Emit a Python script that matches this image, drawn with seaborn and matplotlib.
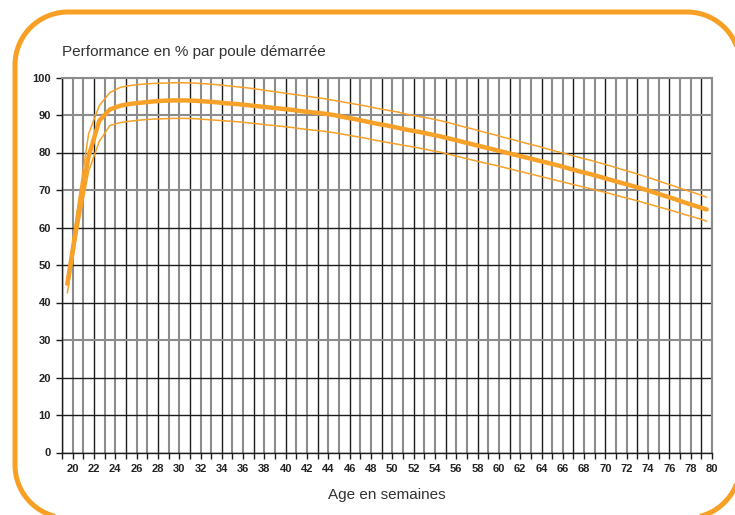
import numpy as np
import pandas as pd
import matplotlib
matplotlib.use("Agg")
import matplotlib.pyplot as plt
from matplotlib.lines import Line2D
from matplotlib.transforms import IdentityTransform
import seaborn as sns

# weeks of age (one value per week, 19 -> 79)
weeks = list(range(19, 80))

# performance in % per started hen: standard curve
standard = [45, 63, 79, 88.5, 91.5, 92.5, 93.0, 93.3, 93.6, 93.8, 93.9, 93.9, 93.8, 93.6,
            93.4, 93.1, 92.9, 92.6, 92.3, 92.0, 91.7, 91.4, 91.0, 90.7, 90.4, 90.0, 89.4,
            88.9, 88.3, 87.7, 87.2, 86.6, 86.0, 85.5, 84.9, 84.3, 83.6, 82.9, 82.2, 81.5,
            80.8, 80.1, 79.4, 78.7, 78.0, 77.3, 76.6, 75.8, 75.0, 74.3, 73.5, 72.7, 71.9,
            71.1, 70.3, 69.4, 68.5, 67.6, 66.6, 65.7, 64.8]

# upper bound
upper = [45, 66, 85, 92.5, 96.0, 97.4, 97.9, 98.2, 98.4, 98.5, 98.6, 98.6, 98.5, 98.3,
         98.1, 97.8, 97.5, 97.2, 96.8, 96.4, 96.0, 95.6, 95.2, 94.8, 94.4, 93.9, 93.4,
         92.9, 92.4, 91.8, 91.3, 90.8, 90.1, 89.6, 89.1, 88.5, 87.8, 87.0, 86.3, 85.5,
         84.8, 84.0, 83.3, 82.5, 81.8, 81.0, 80.2, 79.5, 78.7, 78.0, 77.2, 76.4, 75.5,
         74.7, 73.8, 72.9, 71.9, 71.0, 70.0, 69.1, 68.1]

# lower bound
lower = [42.5, 60, 75, 83, 87.2, 88.0, 88.4, 88.7, 88.9, 89.0, 89.1, 89.1, 89.0, 88.8,
         88.6, 88.4, 88.2, 87.9, 87.6, 87.3, 87.0, 86.7, 86.3, 86.0, 85.7, 85.3, 84.8,
         84.3, 83.8, 83.2, 82.7, 82.2, 81.7, 81.2, 80.6, 80.1, 79.4, 78.7, 78.0, 77.3,
         76.7, 76.0, 75.3, 74.6, 73.9, 73.2, 72.5, 71.8, 71.1, 70.4, 69.7, 69.0, 68.2,
         67.5, 66.7, 65.9, 65.1, 64.3, 63.4, 62.6, 61.7]

orange = "#F7A128"

df = pd.DataFrame({"week": weeks, "standard": standard, "upper": upper, "lower": lower})
# points sit in the middle of each weekly category (Excel style)
df["x"] = df["week"] + 0.5

sns.set_style("white")
plt.rcParams["font.family"] = ["Liberation Sans", "DejaVu Sans"]

fig = plt.figure(figsize=(7.35, 5.15), dpi=100)
ax = fig.add_axes([62 / 735, 1 - 452.5 / 515, 650 / 735, 375 / 515])

# grid
for w in range(19, 81):
    dark = (w % 3 == 1)
    ax.axvline(w, color="#1c1c1c" if dark else "#8c8c8c", lw=1.0 if dark else 1.5, zorder=1)
for v in range(0, 101, 10):
    dark = v in (0, 10, 20, 40, 50, 60, 80)
    ax.axhline(v, color="#1c1c1c" if dark else "#8c8c8c", lw=1.0 if dark else 1.5, zorder=1)

sns.lineplot(data=df, x="x", y="upper", color=orange, lw=1.1, ax=ax, zorder=3)
sns.lineplot(data=df, x="x", y="lower", color=orange, lw=1.1, ax=ax, zorder=3)
sns.lineplot(data=df, x="x", y="standard", color=orange, lw=3.2, ax=ax, zorder=4)

ax.set_xlim(19, 80)
ax.set_ylim(0, 100)
ax.set_xticks(range(20, 81, 2))
ax.set_xticks(range(19, 81, 2), minor=True)
ax.set_yticks(range(0, 101, 10))
ax.tick_params(axis="both", which="both", direction="out", length=4, width=1, color="#1c1c1c",
               labelsize=8, bottom=True, left=True)
ax.tick_params(axis="x", pad=4)
ax.tick_params(axis="y", pad=4)
for lab in ax.get_xticklabels() + ax.get_yticklabels():
    lab.set_fontweight("bold")
    lab.set_color("#222222")

for side in ["left", "bottom"]:
    ax.spines[side].set_color("#1c1c1c")
    ax.spines[side].set_linewidth(1.0)
for side in ["top", "right"]:
    ax.spines[side].set_color("#8c8c8c")
    ax.spines[side].set_linewidth(1.5)
    ax.spines[side].set_visible(True)

ax.set_xlabel("Age en semaines", fontsize=11, color="#333333", labelpad=10)
ax.set_ylabel("")

fig.text(62 / 735, 1 - 52 / 515, "Performance en % par poule démarrée", fontsize=11,
         color="#333333", va="center", ha="left")

# rounded orange frame in pixels (y up); right and bottom edges run off the page
x0, x1, y0, y1, r = 15, 740, 515 - 518, 515 - 12, 53
t = np.linspace(0, np.pi / 2, 30)
fx = np.concatenate([x1 - r + r * np.cos(t), x0 + r - r * np.sin(t),
                     x0 + r - r * np.cos(t), x1 - r + r * np.sin(t), [x1]])
fy = np.concatenate([y1 - r + r * np.sin(t), y1 - r + r * np.cos(t),
                     y0 + r - r * np.sin(t), y0 + r - r * np.cos(t), [y1 - r]])
fig.add_artist(Line2D(fx, fy, transform=IdentityTransform(), color="#F7A023", lw=3.6,
                      solid_joinstyle="round"))

fig.savefig("out.png", dpi=100)
